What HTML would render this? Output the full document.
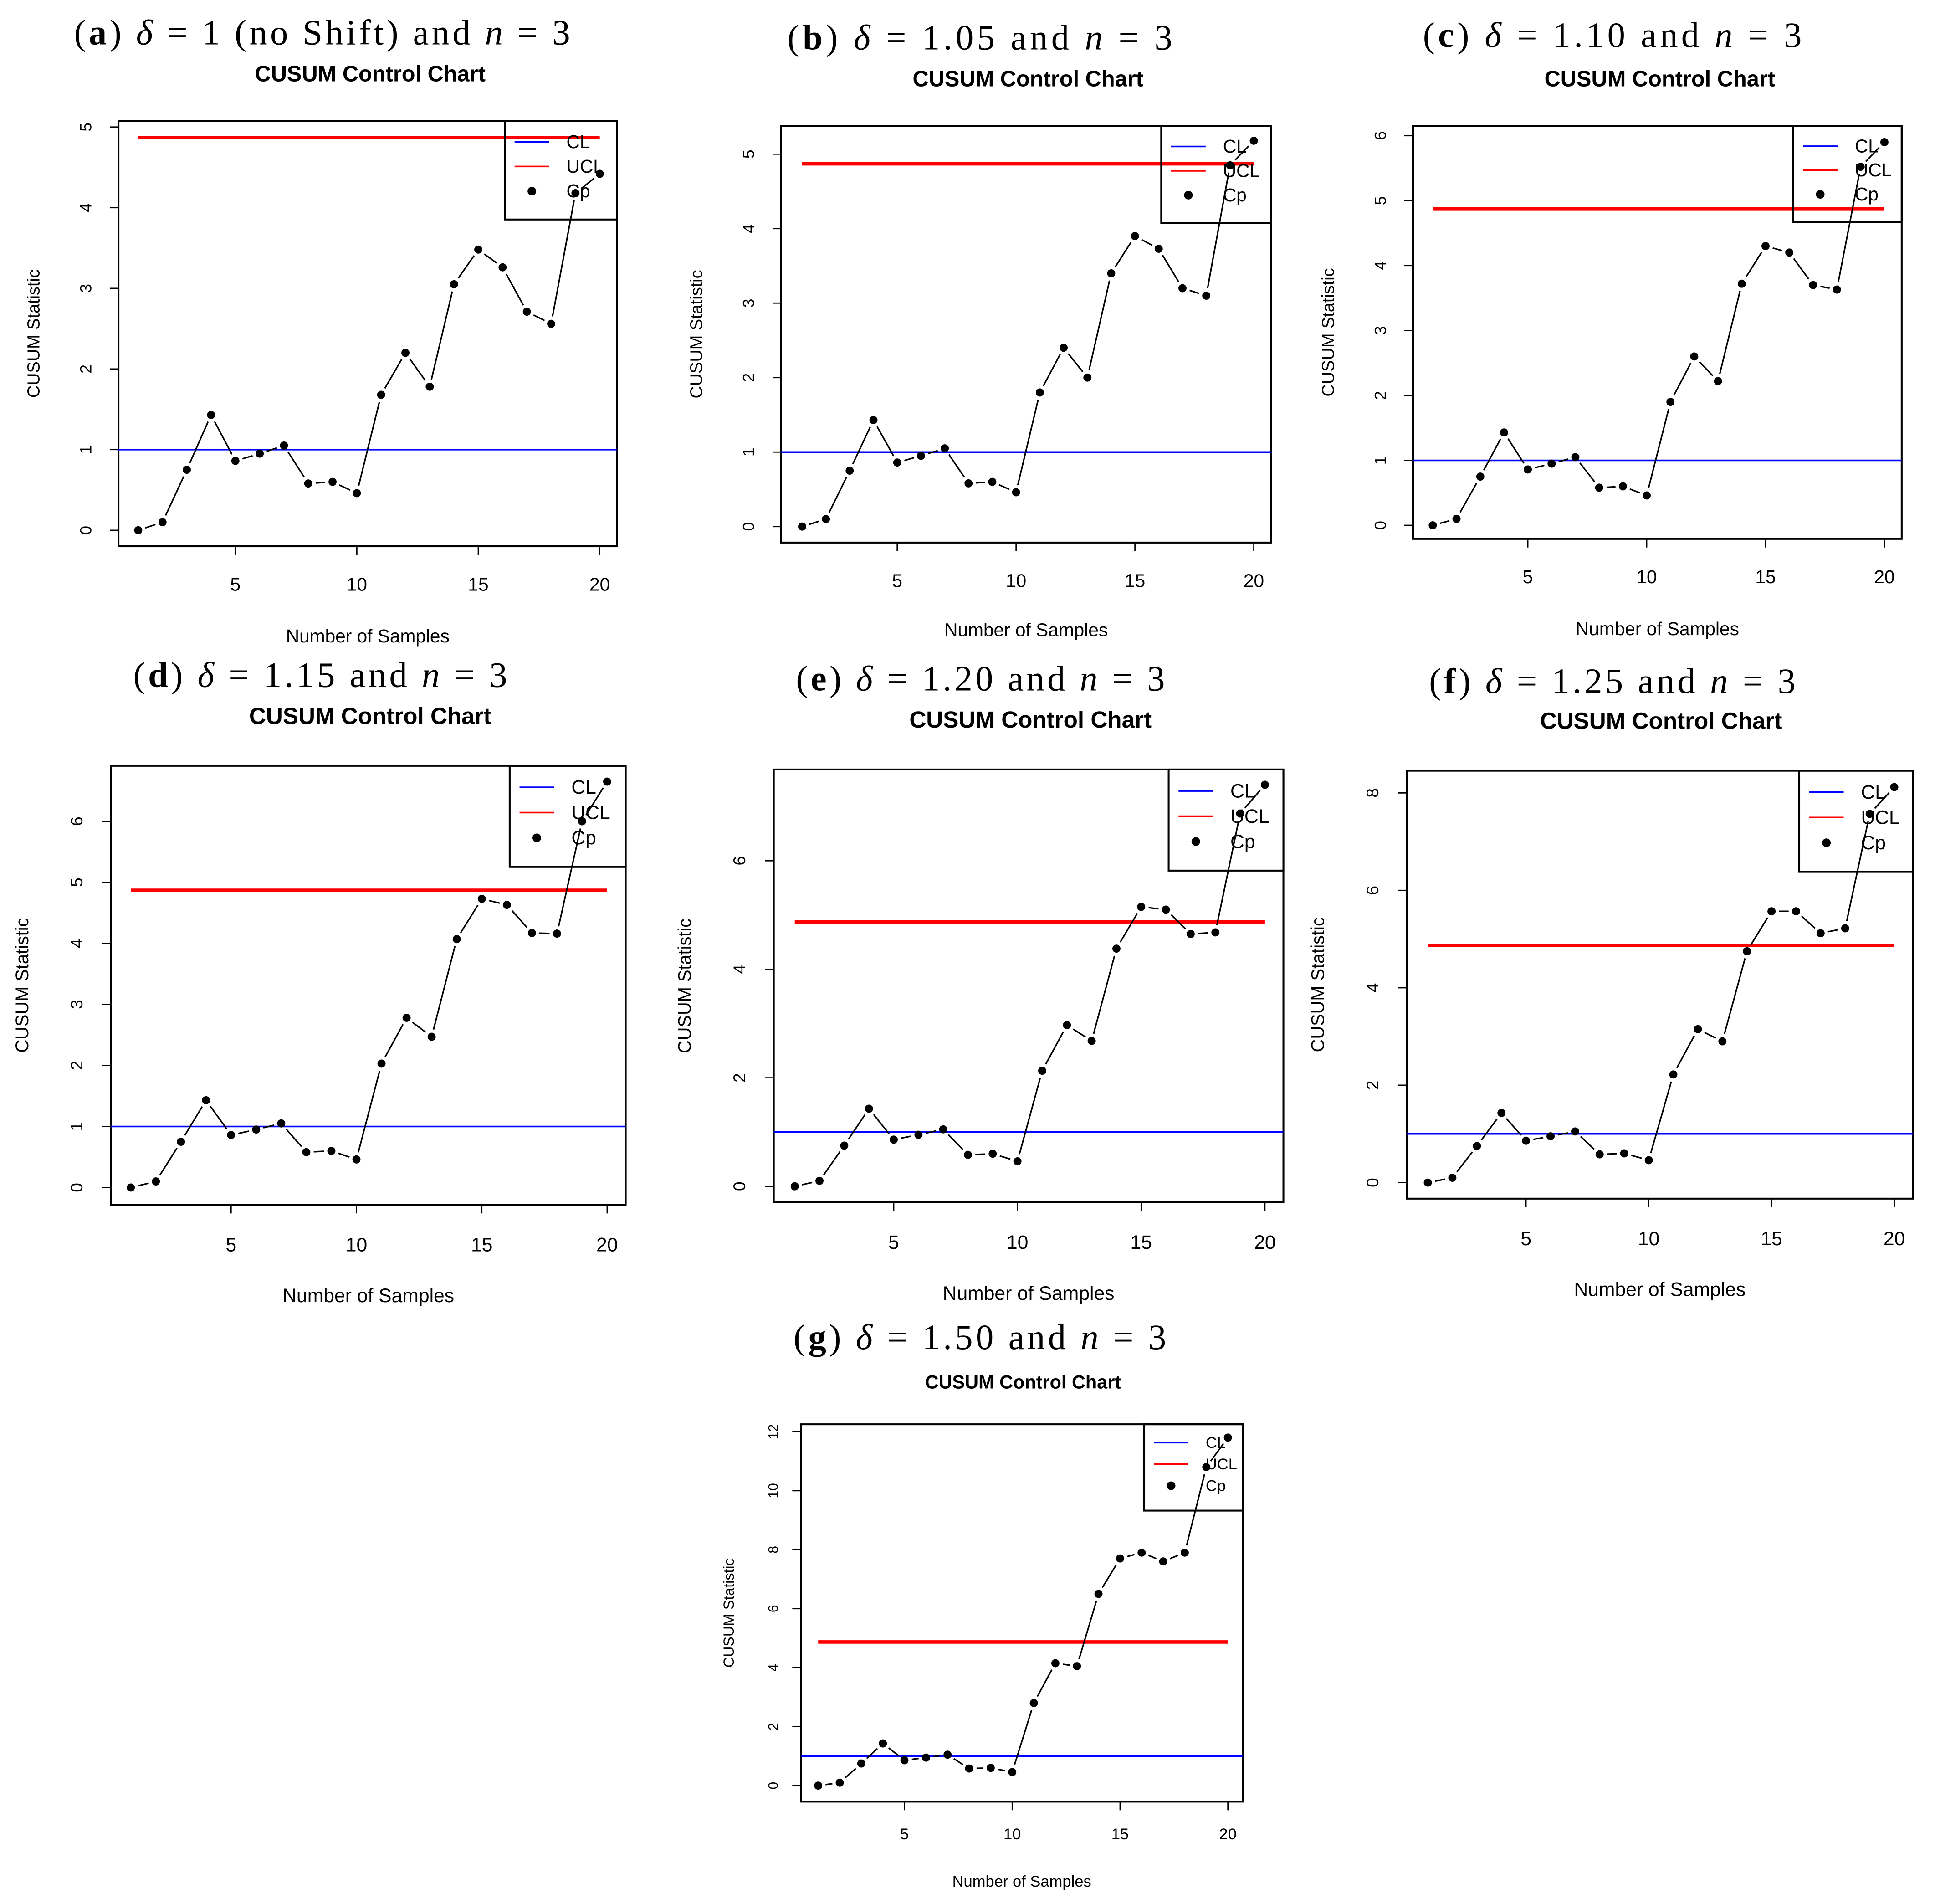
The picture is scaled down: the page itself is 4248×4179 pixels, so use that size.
<!DOCTYPE html>
<html><head><meta charset="utf-8"><style>html,body{margin:0;padding:0;background:#fff}svg{display:block}</style></head>
<body>
<svg id="fig" xmlns="http://www.w3.org/2000/svg" width="4248" height="4179" viewBox="0 0 1568 1544" preserveAspectRatio="none"></svg>
<script>
const samples = [1,2,3,4,5,6,7,8,9,10,11,12,13,14,15,16,17,18,19,20];
const seriesA = [0,0.1,0.75,1.43,0.86,0.95,1.05,0.58,0.6,0.46,1.68,2.2,1.78,3.05,3.48,3.26,2.71,2.56,4.18,4.42];
const seriesB = [0,0.1,0.75,1.43,0.86,0.95,1.05,0.58,0.6,0.46,1.8,2.4,2.0,3.4,3.9,3.73,3.2,3.1,4.85,5.18];
const seriesC = [0,0.1,0.75,1.43,0.86,0.95,1.05,0.58,0.6,0.46,1.9,2.6,2.22,3.72,4.3,4.2,3.7,3.63,5.52,5.9];
const seriesD = [0,0.1,0.75,1.43,0.86,0.95,1.05,0.58,0.6,0.46,2.03,2.78,2.47,4.07,4.73,4.63,4.17,4.16,6.0,6.65];
const seriesE = [0,0.1,0.75,1.43,0.86,0.95,1.05,0.58,0.6,0.46,2.13,2.97,2.68,4.38,5.15,5.1,4.65,4.68,6.87,7.4];
const seriesF = [0,0.1,0.75,1.43,0.86,0.95,1.05,0.58,0.6,0.46,2.22,3.15,2.9,4.75,5.57,5.57,5.12,5.22,7.57,8.12];
const seriesG = [0,0.1,0.75,1.43,0.86,0.95,1.05,0.58,0.6,0.46,2.8,4.15,4.05,6.5,7.7,7.9,7.6,7.9,10.8,11.8];
const centerLine = 1;
const upperLimit = 4.87;
const xTicks = [5,10,15,20];
const yTicksA = [0,1,2,3,4,5];
const yTicksC = [0,1,2,3,4,5,6];
const yTicksE = [0,2,4,6];
const yTicksF = [0,2,4,6,8];
const yTicksG = [0,2,4,6,8,10,12];
const titles = ["(a)|δ = 1 (no Shift) and n = 3","(b)|δ = 1.05 and n = 3","(c)|δ = 1.10 and n = 3","(d)|δ = 1.15 and n = 3","(e)|δ = 1.20 and n = 3","(f)|δ = 1.25 and n = 3","(g)|δ = 1.50 and n = 3"];

const panels = [
 {id:'a',s:seriesA,yt:yTicksA,box:[96,98,500,443],x1:112,x20:486,y0:430,yv:5,yvp:103,ty:27,tx:60,te:462,ct:60,cx:300,xl:516,leg:[409,98,500,178],sc:1},
 {id:'b',s:seriesB,yt:yTicksA,box:[633,102,1030,440],x1:650,x20:1016,y0:427,yv:5,yvp:125,ty:31,tx:638,te:950,ct:64,cx:833,xl:511,leg:[941,102,1030,181],sc:1},
 {id:'c',s:seriesC,yt:yTicksC,box:[1145,102,1541,437],x1:1161,x20:1527,y0:426,yv:6,yvp:110,ty:29,tx:1153,te:1460,ct:64,cx:1345,xl:510,leg:[1453,102,1541,180],sc:1},
 {id:'d',s:seriesD,yt:yTicksC,box:[90,621,507,977],x1:106,x20:492,y0:963,yv:6,yvp:666,ty:548,tx:108,te:411,ct:581,cx:300,xl:1051,leg:[413,621,507,703],sc:1.05},
 {id:'e',s:seriesE,yt:yTicksE,box:[627,624,1040,975],x1:644,x20:1025,y0:962,yv:6,yvp:698,ty:551,tx:645,te:944,ct:584,cx:835,xl:1049,leg:[947,624,1040,706],sc:1.05},
 {id:'f',s:seriesF,yt:yTicksF,box:[1140,625,1550,972],x1:1157,x20:1535,y0:959,yv:8,yvp:643,ty:553,tx:1158,te:1455,ct:585,cx:1346,xl:1046,leg:[1458,625,1550,707],sc:1.05},
 {id:'g',s:seriesG,yt:yTicksG,box:[649,1155,1007,1461],x1:663,x20:995,y0:1448,yv:12,yvp:1161,ty:1085,tx:643,te:945,ct:1120,cx:829,xl:1525,leg:[927,1155,1007,1225],sc:0.85}
];
const svg = document.getElementById('fig');
const NS = 'http://www.w3.org/2000/svg';
function mk(tag, parent, attrs){const e=document.createElementNS(NS,tag);for(const k in attrs)e.setAttribute(k,attrs[k]);parent.appendChild(e);return e;}

panels.forEach((p,pi)=>{
  const g = mk('g',svg,{});
  
  
  const xs = v => p.x1 + (v-1)*(p.x20-p.x1)/19;
  const ys = v => p.y0 - v*(p.y0-p.yvp)/p.yv;
  const sc = p.sc;
  const parts = titles[pi].split('|');
  const t = mk('text',g,{x:p.tx,y:p.ty+9,'font-family':'Liberation Serif, serif','font-size':29,textLength:p.te-p.tx,lengthAdjust:'spacing'});
  
  
  t.innerHTML = parts[0].replace(/\((.)\)/,'(<tspan font-weight="bold">$1</tspan>)') + ' ' + parts[1].replace('δ','<tspan font-style="italic">δ</tspan>').replace(' n ',' <tspan font-style="italic">n</tspan> ');
  const ct = mk('text',g,{x:p.cx,y:p.ct+6,'text-anchor':'middle','font-family':'Liberation Sans, sans-serif','font-size':18*sc,'font-weight':'bold'});
  ct.textContent='CUSUM Control Chart';
  
  
  const [bx0,by0,bx1,by1]=p.box;
  const fr = mk('rect',g,{x:bx0,y:by0,width:bx1-bx0,height:by1-by0,fill:'none',stroke:'#000','stroke-width':1.5});
  
  
  xTicks.forEach(v=>{
    const l=mk('line',g,{x1:xs(v),x2:xs(v),y1:by1,y2:by1+7,stroke:'#000','stroke-width':1});
    
    
    const tt=mk('text',g,{x:xs(v),y:by1+36*sc,'text-anchor':'middle','font-family':'Liberation Sans, sans-serif','font-size':15*sc});
    tt.textContent=v;
    
    
  });
  p.yt.forEach(v=>{
    const l=mk('line',g,{x1:bx0-7,x2:bx0,y1:ys(v),y2:ys(v),stroke:'#000','stroke-width':1});
    
    
    const tx=bx0-22*sc;
    const tt=mk('text',g,{x:tx,y:ys(v),'text-anchor':'middle','font-family':'Liberation Sans, sans-serif','font-size':13*sc,transform:`rotate(-90 ${tx} ${ys(v)})`});
    tt.textContent=v;
    
    
  });
  const xl=mk('text',g,{x:(bx0+bx1)/2,y:p.xl+5,'text-anchor':'middle','font-family':'Liberation Sans, sans-serif','font-size':15*sc});
  xl.textContent='Number of Samples';
  
  
  const ylx=bx0-64*sc, yly=(by0+by1)/2;
  const yl=mk('text',g,{x:ylx,y:yly,'text-anchor':'middle','font-family':'Liberation Sans, sans-serif','font-size':14*sc,transform:`rotate(-90 ${ylx} ${yly})`});
  yl.textContent='CUSUM Statistic';
  
  
  const cl=mk('line',g,{x1:bx0,x2:bx1,y1:ys(centerLine),y2:ys(centerLine),stroke:'#0000ff','stroke-width':1.3});
  
  
  const ucl=mk('line',g,{x1:xs(1),x2:xs(20),y1:ys(upperLimit),y2:ys(upperLimit),stroke:'#ff0000','stroke-width':2.8});
  
  
  const [lx0,ly0,lx1,ly1]=p.leg;
  const lg=mk('g',g,{});
  
  
  mk('rect',lg,{x:lx0,y:ly0,width:lx1-lx0,height:ly1-ly0,fill:'none',stroke:'#000','stroke-width':1.5});
  const rh=(ly1-ly0)/4;
  [['CL','#0000ff'],['UCL','#ff0000'],['Cp',null]].forEach((e,i)=>{
    const yy=ly0+rh*(i+0.85);
    const ent=mk('g',lg,{});
    
    
    if(e[1]) mk('line',ent,{x1:lx0+8,x2:lx0+36,y1:yy,y2:yy,stroke:e[1],'stroke-width':1.3});
    else mk('circle',ent,{cx:lx0+22,cy:yy,r:3.5,fill:'#000'});
    const te=mk('text',ent,{x:lx0+50,y:yy+5*sc,'font-family':'Liberation Sans, sans-serif','font-size':15*sc});
    te.textContent=e[0];
  });
  const sg=mk('g',g,{});
  
  
  for(let i=0;i<samples.length-1;i++){
    const ax=xs(samples[i]),ay=ys(p.s[i]),bx=xs(samples[i+1]),by=ys(p.s[i+1]);
    const d=Math.hypot(bx-ax,by-ay),gap=6;
    if(d<=2*gap) continue;
    const ux=(bx-ax)/d,uy=(by-ay)/d;
    const seg=mk('line',sg,{x1:ax+ux*gap,y1:ay+uy*gap,x2:bx-ux*gap,y2:by-uy*gap,stroke:'#000','stroke-width':1.2});
    
    
  }
  samples.forEach((v,i)=>{
    const c=mk('circle',sg,{cx:xs(v),cy:ys(p.s[i]),r:3.3,fill:'#000'});
    
    
  });
});
</script>
</body></html>
